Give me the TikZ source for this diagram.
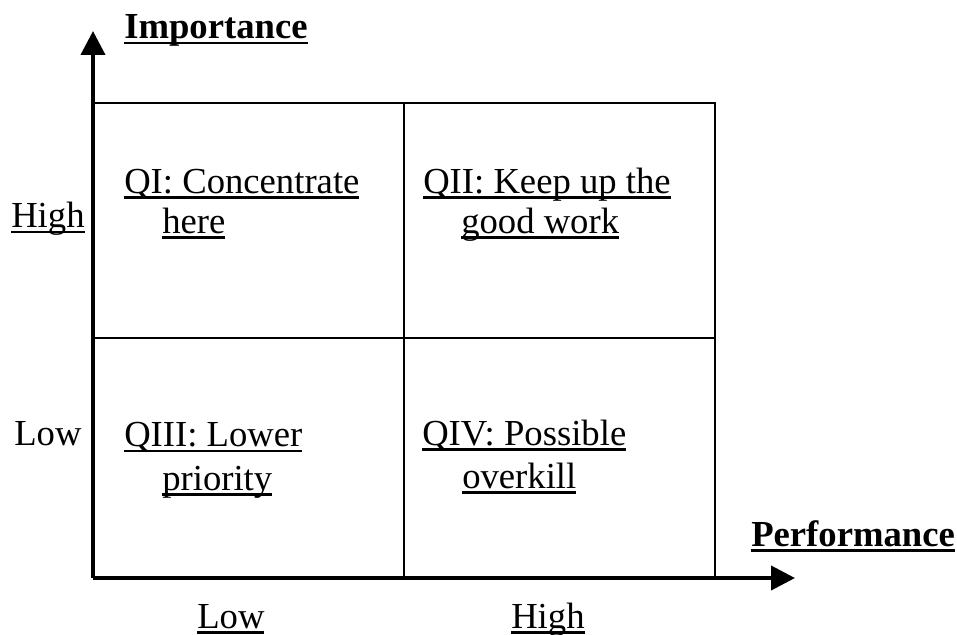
\documentclass[tikz,border=0pt]{standalone}
\usepackage{fontspec}
\setmainfont{Liberation Serif}
\usetikzlibrary{arrows.meta}

% underline drawn at a fixed depth below the baseline (crosses descenders)
\newcommand\ulin[2][0.055em]{\setbox0=\hbox{#2}\rlap{\rule[-0.15em]{\wd0}{#1}}\box0}

\begin{document}
\begin{tikzpicture}[x=0.75pt,y=-0.75pt,
  lbl/.style={inner sep=0pt,anchor=base west,font=\fontsize{27.5pt}{33pt}\selectfont},
  axis/.style={line width=3pt,-{Triangle[length=18pt,width=18pt]}},
  grid/.style={line width=1.5pt}]
\useasboundingbox (0,0) rectangle (957,635);
\fill[white] (0,0) rectangle (957,635);

% corners of the grid and axis ends
\coordinate (O) at (93,578);
\coordinate (ytop) at (93,31);
\coordinate (xend) at (795,578);
\coordinate (TL) at (93,103);
\coordinate (TM) at (404,103);
\coordinate (TR) at (715,103);
\coordinate (ML) at (93,338);
\coordinate (MR) at (715,338);
\coordinate (BM) at (404,578);
\coordinate (BR) at (715,578);

% quadrant lines
\draw[grid] (TL) -- (TR) -- (BR);
\draw[grid] (TM) -- (BM);
\draw[grid] (ML) -- (MR);

% axes
\draw[axis] (O) -- (ytop);
\draw[axis] (O) -- (xend);

% axis titles
\node[lbl] (imp) at (124,39) {\bfseries\ulin[0.08em]{Importance}};
\node[lbl] (perf) at (751,546.5) {\bfseries\ulin[0.08em]{Performance}};

% axis levels
\node[lbl] (yhigh) at (11,227.5) {\ulin{High}};
\node[lbl] (ylow) at (14,445) {Low};
\node[lbl] (xlow) at (197,628) {\ulin{Low}};
\node[lbl] (xhigh) at (511,628) {\ulin{High}};

% quadrant labels
\node[lbl] (q1a) at (124,193) {\ulin{QI: Concentrate}};
\node[lbl] (q1b) at (162,233) {\ulin{here}};
\node[lbl] (q2a) at (423,193) {\ulin{QII: Keep up the}};
\node[lbl] (q2b) at (461,233) {\ulin{good work}};
\node[lbl] (q3a) at (124,446.5) {\ulin{QIII: Lower}};
\node[lbl] (q3b) at (162,490) {\ulin{priority}};
\node[lbl] (q4a) at (422,445) {\ulin{QIV: Possible}};
\node[lbl] (q4b) at (462,488) {\ulin{overkill}};
\end{tikzpicture}
\end{document}
